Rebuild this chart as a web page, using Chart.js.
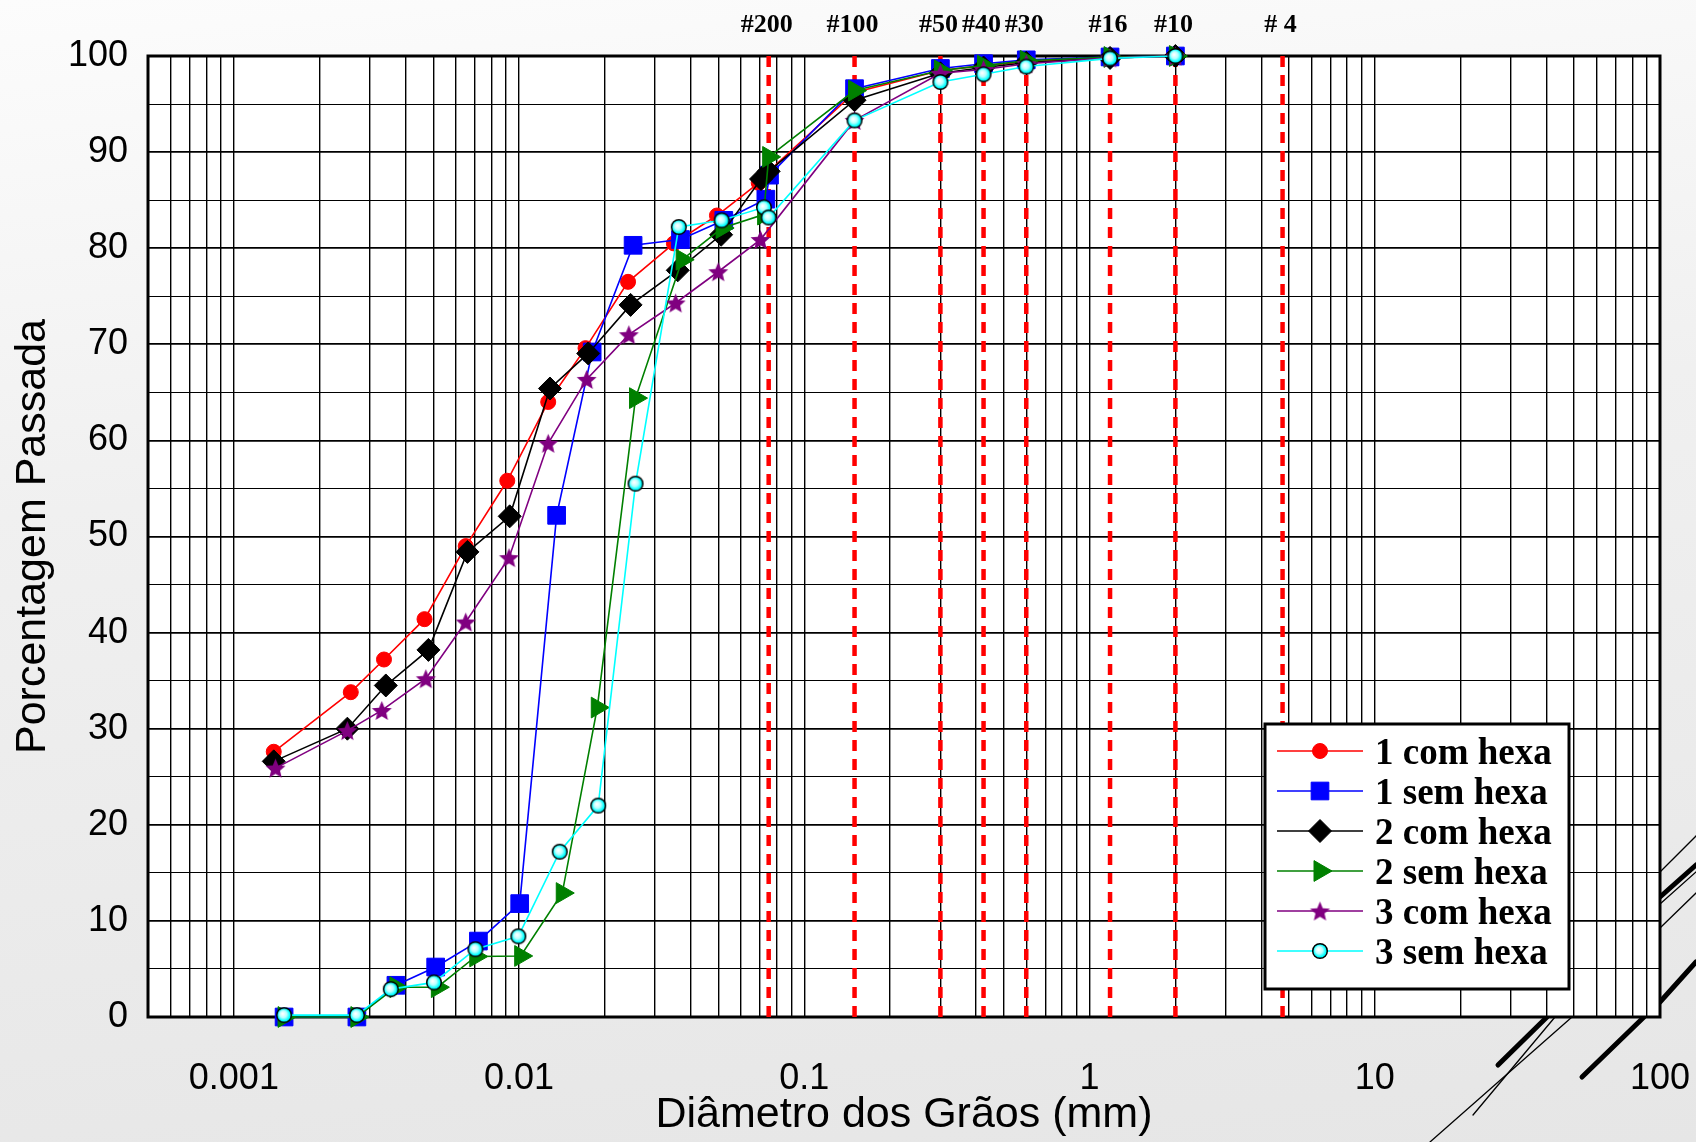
<!DOCTYPE html>
<html>
<head>
<meta charset="utf-8">
<script src="https://cdn.jsdelivr.net/npm/chart.js@4.4.1/dist/chart.umd.min.js"></script>
<style>
  html, body { margin: 0; padding: 0; }
  body {
    width: 1696px;
    height: 1142px;
    overflow: hidden;
    background: linear-gradient(175deg, #fcfcfc 0%, #f0f0f0 40%, #e6e6e6 100%);
  }
  #wrap { position: relative; width: 1696px; height: 1142px; }
</style>
</head>
<body>
<div id="wrap"><canvas id="granChart" width="1696" height="1142"></canvas></div>
<script>
// grain size (mm) and percent passing
const seriesNames = ['1 com hexa', '1 sem hexa', '2 com hexa', '2 sem hexa', '3 com hexa', '3 sem hexa'];

const diam1com = [0.00138, 0.00257, 0.00336, 0.00466, 0.0065, 0.00909, 0.01265, 0.0171, 0.0241, 0.0349, 0.0494, 0.0692, 0.075, 0.15, 0.3, 0.425, 0.6, 1.18, 2.0];
const pass1com = [27.6, 33.8, 37.2, 41.4, 49.0, 55.8, 64.0, 69.6, 76.5, 80.5, 83.4, 86.8, 88.0, 96.2, 98.5, 99.0, 99.4, 99.8, 100];

const diam1sem = [0.0015, 0.0027, 0.0037, 0.0051, 0.0072, 0.01005, 0.01354, 0.01804, 0.0251, 0.0368, 0.0522, 0.0733, 0.0755, 0.15, 0.3, 0.425, 0.6, 1.18, 2.0];
const pass1sem = [0, 0, 3.3, 5.2, 7.9, 11.8, 52.2, 69.2, 80.3, 80.9, 82.9, 85.1, 87.6, 96.6, 98.7, 99.2, 99.6, 99.9, 100];

const diam2com = [0.00138, 0.0025, 0.00341, 0.00481, 0.00659, 0.00927, 0.01283, 0.01747, 0.0246, 0.036, 0.0511, 0.0705, 0.075, 0.15, 0.3, 0.425, 0.6, 1.18, 2.0];
const pass2com = [26.6, 30.0, 34.5, 38.2, 48.4, 52.1, 65.4, 69.05, 74.1, 77.7, 81.4, 87.2, 88.0, 95.4, 98.2, 98.8, 99.3, 99.8, 100];

const diam2sem = [0.0015, 0.0027, 0.0037, 0.00517, 0.00705, 0.01013, 0.01417, 0.0188, 0.0256, 0.0373, 0.0515, 0.072, 0.075, 0.15, 0.3, 0.425, 0.6, 1.18, 2.0];
const pass2sem = [0, 0, 3.1, 3.1, 6.3, 6.35, 12.9, 32.2, 64.4, 78.8, 82.1, 83.5, 89.5, 96.4, 98.5, 99.0, 99.5, 99.9, 100];

const diam3com = [0.0014, 0.0025, 0.0033, 0.00471, 0.0065, 0.00922, 0.01265, 0.01725, 0.02426, 0.0354, 0.0499, 0.0702, 0.15, 0.3, 0.425, 0.6, 1.18, 2.0];
const pass3com = [25.9, 29.8, 31.9, 35.2, 41.1, 47.8, 59.7, 66.35, 71.0, 74.3, 77.55, 80.9, 93.3, 98.2, 98.6, 99.2, 99.8, 100];

const diam3sem = [0.0015, 0.0027, 0.00355, 0.00503, 0.00703, 0.00994, 0.01388, 0.01894, 0.0256, 0.0363, 0.0513, 0.0722, 0.075, 0.15, 0.3, 0.425, 0.6, 1.18, 2.0];
const pass3sem = [0.2, 0.2, 2.9, 3.6, 7.05, 8.4, 17.2, 22.0, 55.5, 82.2, 82.9, 84.25, 83.2, 93.3, 97.3, 98.1, 98.9, 99.75, 100];

// sieve openings (mm)
const sieveLabels = ['#200', '#100', '#50', '#40', '#30', '#16', '#10', '# 4'];
const sieveSizes = [0.075, 0.15, 0.3, 0.425, 0.6, 1.18, 2.0, 4.75];

// axes
const xDecades = [0.001, 0.01, 0.1, 1, 10, 100];
const xDecadeLabels = ['0.001', '0.01', '0.1', '1', '10', '100'];
const xMin = 0.0005;
const xMax = 100;
const yTicksLabelled = [0, 10, 20, 30, 40, 50, 60, 70, 80, 90, 100];

const SANS = "'Liberation Sans', Arial, sans-serif";
const SERIF = "'Liberation Serif', 'Times New Roman', serif";

function makeStar(color, r) {
  const c = document.createElement('canvas');
  const s = Math.ceil(r * 2 + 2);
  c.width = s;
  c.height = s;
  const g = c.getContext('2d');
  g.beginPath();
  for (let i = 0; i < 10; i++) {
    const rr = i % 2 ? r * 0.45 : r;
    const a = -Math.PI / 2 + i * Math.PI / 5;
    g.lineTo(s / 2 + rr * Math.cos(a), s / 2 + 1 + rr * Math.sin(a));
  }
  g.closePath();
  g.fillStyle = color;
  g.fill();
  return c;
}

function makeBead(r) {
  const c = document.createElement('canvas');
  const s = Math.ceil(r * 2 + 2);
  c.width = s;
  c.height = s;
  const g = c.getContext('2d');
  const cx = s / 2, cy = s / 2;
  const grad = g.createRadialGradient(cx - 1.5, cy - 1.5, 0.5, cx, cy, r);
  grad.addColorStop(0, '#ffffff');
  grad.addColorStop(0.4, '#b8ffff');
  grad.addColorStop(0.75, '#00ffff');
  grad.addColorStop(1, '#00d8e0');
  g.beginPath();
  g.arc(cx, cy, r - 0.7, 0, Math.PI * 2);
  g.fillStyle = grad;
  g.fill();
  g.lineWidth = 1.5;
  g.strokeStyle = '#000';
  g.stroke();
  return c;
}

const starImg = makeStar('#800080', 10.5);
const beadImg = makeBead(8);

const seriesStyles = [
  { color: '#ff0000', fill: '#ff0000', edge: '#ff0000', style: 'circle', radius: 7.5, rotation: 0 },
  { color: '#0000ff', fill: '#0000ff', edge: '#0000ff', style: 'rect', radius: 12.5, rotation: 0 },
  { color: '#000000', fill: '#000000', edge: '#000000', style: 'rectRot', radius: 11.5, rotation: 0 },
  { color: '#008000', fill: '#008000', edge: '#008000', style: 'triangle', radius: 12, rotation: 90 },
  { color: '#800080', fill: '#800080', edge: '#800080', style: starImg, radius: 10.5, rotation: 0 },
  { color: '#00ffff', fill: '#00ffff', edge: '#000000', style: beadImg, radius: 8, rotation: 0 }
];

const seriesX = [diam1com, diam1sem, diam2com, diam2sem, diam3com, diam3sem];
const seriesY = [pass1com, pass1sem, pass2com, pass2sem, pass3com, pass3sem];

const dataSets = seriesNames.map((name, i) => {
  const st = seriesStyles[i];
  return {
    label: name,
    data: seriesX[i].map((d, k) => ({ x: d, y: seriesY[i][k] })),
    borderColor: st.color,
    backgroundColor: st.fill,
    pointBackgroundColor: st.fill,
    pointBorderColor: st.edge,
    pointBorderWidth: 1,
    pointStyle: st.style,
    pointRadius: st.radius,
    pointRotation: st.rotation,
    borderWidth: 1.6,
    tension: 0,
    clip: false,
    order: seriesNames.length - i
  };
});

const sieveSets = sieveSizes.map((s, i) => ({
  label: sieveLabels[i],
  data: [{ x: s, y: 0 }, { x: s, y: 100 }],
  borderColor: '#ff0000',
  borderWidth: 4.5,
  borderDash: [11, 8],
  pointRadius: 0,
  tension: 0,
  order: 20,
  isSieve: true
}));

// every 1..9 step of each decade between xMin and xMax
const xGridValues = [];
for (let e = -4; e <= 2; e++) {
  for (let m = 1; m <= 9; m++) {
    const v = parseFloat((m * Math.pow(10, e)).toPrecision(3));
    if (v >= xMin * 0.9999 && v <= xMax * 1.0001) xGridValues.push(v);
  }
}

// decoration of the slide theme behind the plot
const themeLines = [
  { a: [1660, 872], b: [1696, 836], w: 1.3 },
  { a: [1660, 897], b: [1696, 865], w: 5 },
  { a: [1660, 904], b: [1696, 872], w: 1.3 },
  { a: [1660, 928], b: [1696, 893], w: 1.3 },
  { a: [1660, 1002], b: [1696, 962], w: 5 },
  { a: [1498, 1065], b: [1547, 1017], w: 5 },
  { a: [1473, 1115], b: [1555, 1017], w: 1.3 },
  { a: [1430, 1142], b: [1572, 1017], w: 1.3 },
  { a: [1582, 1077], b: [1644, 1017], w: 5 }
];

const backdrop = {
  id: 'backdrop',
  beforeDraw(chart) {
    const { ctx, chartArea } = chart;
    ctx.save();
    ctx.strokeStyle = '#000';
    ctx.lineCap = 'round';
    themeLines.forEach(l => {
      ctx.lineWidth = l.w;
      ctx.beginPath();
      ctx.moveTo(l.a[0], l.a[1]);
      ctx.lineTo(l.b[0], l.b[1]);
      ctx.stroke();
    });
    ctx.fillStyle = '#ffffff';
    ctx.fillRect(chartArea.left, chartArea.top, chartArea.right - chartArea.left, chartArea.bottom - chartArea.top);
    ctx.restore();
  },
  beforeDatasetsDraw(chart) {
    const { ctx, chartArea } = chart;
    ctx.save();
    ctx.strokeStyle = '#000';
    ctx.lineWidth = 3;
    ctx.strokeRect(chartArea.left, chartArea.top, chartArea.right - chartArea.left, chartArea.bottom - chartArea.top);
    ctx.restore();
  }
};

const sieveTitles = {
  id: 'sieveTitles',
  afterDraw(chart) {
    const { ctx, chartArea } = chart;
    const xs = chart.scales.x;
    ctx.save();
    ctx.fillStyle = '#000';
    ctx.font = `bold 26px ${SERIF}`;
    ctx.textAlign = 'center';
    ctx.textBaseline = 'middle';
    sieveSizes.forEach((s, i) => {
      ctx.fillText(sieveLabels[i], xs.getPixelForValue(s) - 2, chartArea.top - 31);
    });
    ctx.restore();
  }
};

const legendBox = {
  id: 'legendBox',
  afterDraw(chart) {
    const { ctx, chartArea } = chart;
    const w = 304, h = 265;
    const right = chartArea.right - 91;
    const bottom = chartArea.bottom - 28;
    const left = right - w;
    const top = bottom - h;
    ctx.save();
    ctx.fillStyle = '#ffffff';
    ctx.fillRect(left, top, w, h);
    ctx.lineWidth = 3;
    ctx.strokeStyle = '#000';
    ctx.strokeRect(left, top, w, h);
    chart.data.datasets.filter(ds => !ds.isSieve).forEach((ds, i) => {
      const y = top + 27 + i * 40;
      ctx.strokeStyle = ds.borderColor;
      ctx.lineWidth = 1.6;
      ctx.beginPath();
      ctx.moveTo(left + 12, y);
      ctx.lineTo(left + 98, y);
      ctx.stroke();
      ctx.fillStyle = ds.pointBackgroundColor;
      ctx.strokeStyle = ds.pointBorderColor;
      ctx.lineWidth = ds.pointBorderWidth;
      Chart.helpers.drawPoint(ctx, {
        pointStyle: ds.pointStyle,
        radius: ds.pointRadius,
        rotation: ds.pointRotation,
        borderWidth: ds.pointBorderWidth
      }, left + 55, y);
      ctx.fillStyle = '#000';
      ctx.font = `bold 37px ${SERIF}`;
      ctx.textAlign = 'left';
      ctx.textBaseline = 'middle';
      ctx.fillText(ds.label, left + 110, y + 3);
    });
    ctx.restore();
  }
};

const canvas = document.getElementById('granChart');
const ctx = canvas.getContext('2d');

new Chart(ctx, {
  type: 'line',
  data: { datasets: [...dataSets, ...sieveSets] },
  options: {
    responsive: false,
    animation: false,
    layout: { autoPadding: false, padding: { top: 56, right: 36, bottom: 0, left: 0 } },
    plugins: {
      legend: { display: false },
      tooltip: { enabled: false },
      title: { display: false }
    },
    scales: {
      x: {
        type: 'logarithmic',
        min: xMin,
        max: xMax,
        afterBuildTicks: scale => {
          scale.ticks = xGridValues.map(v => ({ value: v }));
        },
        afterFit: scale => { scale.height = 125; },
        ticks: {
          autoSkip: false,
          maxRotation: 0,
          minRotation: 0,
          padding: 3,
          color: '#000',
          font: { family: SANS, size: 36 },
          callback: value => {
            const idx = xDecades.findIndex(d => Math.abs(value / d - 1) < 1e-6);
            return idx >= 0 ? xDecadeLabels[idx] : '';
          }
        },
        grid: { color: '#000', lineWidth: 1.4, drawTicks: true, tickLength: 37, tickColor: 'rgba(0,0,0,0)' },
        border: { display: false },
        title: {
          display: true,
          text: 'Diâmetro dos Grãos (mm)',
          color: '#000',
          font: { family: SANS, size: 43, lineHeight: 1 },
          padding: { top: 0, bottom: 5 }
        }
      },
      y: {
        min: 0,
        max: 100,
        afterFit: scale => { scale.width = 148; },
        ticks: {
          stepSize: 5,
          autoSkip: false,
          padding: 20,
          color: '#000',
          font: { family: SANS, size: 36 },
          callback: value => (yTicksLabelled.includes(value) ? String(value) : '')
        },
        grid: {
          color: '#000',
          lineWidth: c => (c.tick && yTicksLabelled.includes(c.tick.value) ? 1.8 : 1.1),
          drawTicks: false
        },
        border: { display: false },
        title: {
          display: true,
          text: 'Porcentagem Passada',
          color: '#000',
          font: { family: SANS, size: 43, lineHeight: 1 },
          padding: { top: 12, bottom: 0 }
        }
      }
    }
  },
  plugins: [backdrop, sieveTitles, legendBox]
});
</script>
</body>
</html>
